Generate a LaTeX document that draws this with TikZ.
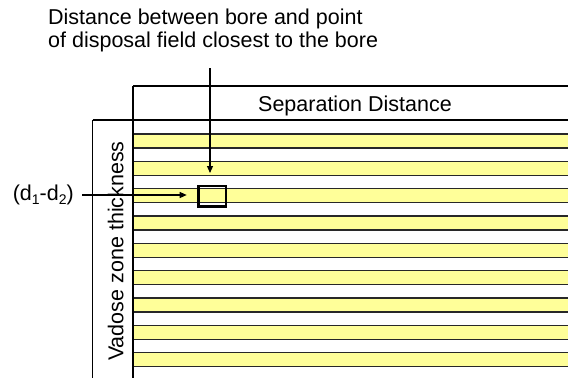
\documentclass[tikz,border=0pt]{standalone}
\usepackage{fontspec}
\setmainfont{Liberation Sans}
\usetikzlibrary{arrows.meta}
\definecolor{stripeyellow}{RGB}{255,255,153}
\definecolor{linegray}{RGB}{40,40,40}
\begin{document}
\begin{tikzpicture}[x=1pt,y=-1pt,
  lbl/.style={font=\fontsize{21.5}{24}\selectfont, inner sep=0pt, text=black},
  thin/.style={draw=black, line width=1.1pt},
  stripe/.style={fill=stripeyellow, draw=linegray, line width=1.1pt},
  arr/.style={draw=black, line width=1.1pt, -{Triangle[length=7pt,width=6pt]}},
  markbox/.style={draw=black, line width=2.5pt, inner sep=0pt, minimum width=27.7pt, minimum height=20.7pt}
]
\useasboundingbox (0,0) rectangle (568,378);

% caption
\node[lbl, anchor=base west] (cap1) at (48,24) {Distance between bore and point};
\node[lbl, anchor=base west] (cap2) at (48,47.5) {of disposal field closest to the bore};

% stripes
\foreach \k in {0,...,8}{
  \path[stripe] (133,{134+27.33*\k}) rectangle (569,{148+27.33*\k});
}

% frame lines
\coordinate (hdrTL) at (133,86);
\coordinate (hdrTR) at (569,86);
\coordinate (hdrBL) at (92.7,120);
\coordinate (hdrBR) at (569,120);
\coordinate (innerB) at (133,378);
\coordinate (outerB) at (92.7,378);
\draw[thin] (hdrTL) -- (hdrTR);
\draw[thin] (hdrBL) -- (hdrBR);
\draw[thin] (hdrTL) -- (innerB);
\draw[thin] (hdrBL) -- (outerB);

% labels
\node[lbl, anchor=base] (sep) at (355,111.7) {Separation Distance};
\node[lbl, anchor=base, rotate=90] (vad) at (123.3,251) {Vadose zone thickness};
\node[lbl, anchor=base east] (dd) at (74,200)
  {(d\raisebox{-0.22em}{\fontsize{14}{14}\selectfont 1}-d\raisebox{-0.22em}{\fontsize{14}{14}\selectfont 2})};

% marker box
\node[markbox] (box) at (212.2,196.3) {};

% arrows
\coordinate (vtop) at (210,68);
\coordinate (vtip) at (210,173);
\draw[arr] (vtop) -- (vtip);
\coordinate (hstart) at (82,195);
\coordinate (htip) at (186.7,195);
\draw[arr] (hstart) -- (htip);
\end{tikzpicture}
\end{document}
